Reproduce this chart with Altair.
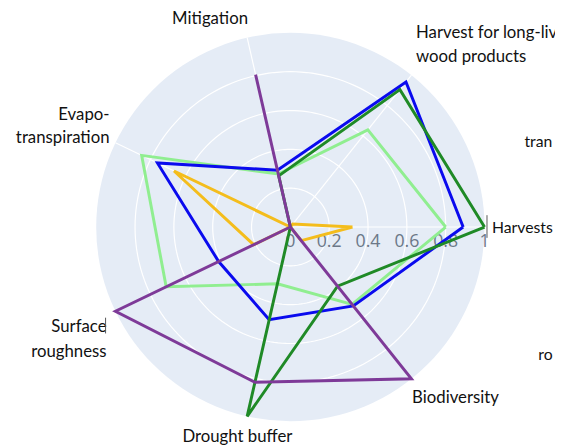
import math
import altair as alt
import pandas as pd

# ---------------- data ----------------
categories = ["Harvests", "Harvest for long-lived wood products", "Mitigation",
              "Evapo-transpiration", "Surface roughness", "Drought buffer", "Biodiversity"]

series_names = ["Scenario 1", "Scenario 2", "Scenario 3", "Scenario 4", "Scenario 5"]
values_gold = [0.32, 0.02, 0.00, 0.665, 0.21, 0.00, 0.09]
values_light_green = [0.80, 0.64, 0.28, 0.85, 0.71, 0.30, 0.51]
values_blue = [0.89, 0.955, 0.30, 0.76, 0.41, 0.49, 0.52]
values_dark_green = [1.00, 0.905, 0.27, 0.00, 0.00, 1.00, 0.39]
values_purple = [0.00, 0.00, 0.805, 0.00, 1.00, 0.82, 1.00]

radial_ticks = [0, 0.2, 0.4, 0.6, 0.8, 1]
radial_tick_labels = ["0", "0.2", "0.4", "0.6", "0.8", "1"]
grid_rings = [0.2, 0.4, 0.6, 0.8]

# ---------------- layout / style ----------------
W, H = 555, 440
CX, CY = 286.5, 219.0          # centre of the polar area, in plot pixels
R = 197.0                       # radius of value 1
x_scale = alt.Scale(domain=[-CX / R, (W - CX) / R], nice=False, zero=False)
y_scale = alt.Scale(domain=[-(H - CY) / R, CY / R], nice=False, zero=False)
colors = ["#f4bd1c", "#90ee90", "#0a0aee", "#1f8a26", "#7e3a98"]
series_values = [values_gold, values_light_green, values_blue, values_dark_green, values_purple]
N = len(categories)
STEP = 2 * math.pi / N

X = lambda f: alt.X(f, type="quantitative", scale=x_scale, axis=None)
Y = lambda f: alt.Y(f, type="quantitative", scale=y_scale, axis=None)

# background disk
disk = alt.Chart(pd.DataFrame({"px": [0.0], "py": [0.0]})).mark_circle(
    size=(2 * R) ** 2, color="#e5ecf6", opacity=1
).encode(x=X("px"), y=Y("py"))

# grid rings
ring_rows = []
for r in grid_rings:
    for k in range(0, 181):
        ring_rows.append({"ring": r, "k": k})
rings = alt.Chart(pd.DataFrame(ring_rows)).transform_calculate(
    a="datum.k * 2 * PI / 180",
    px="datum.ring * cos(datum.a)",
    py="datum.ring * sin(datum.a)",
).mark_line(color="white", strokeWidth=1.2).encode(
    x=X("px"), y=Y("py"), detail="ring:N", order="k:Q"
)

# spokes
spokes = alt.Chart(pd.DataFrame({"cat": categories, "idx": list(range(N))})).transform_calculate(
    a=f"datum.idx * {STEP}",
    x0="0", y0="0",
    ex="cos(datum.a)", ey="sin(datum.a)",
).mark_rule(color="white", strokeWidth=1.2).encode(
    x=X("x0"), y=Y("y0"), x2="ex:Q", y2="ey:Q"
)

# radial tick labels
ticks = alt.Chart(pd.DataFrame({"v": radial_ticks, "lab": radial_tick_labels, "zero": [0.0] * 6})).mark_text(
    font="Open Sans", fontSize=18, color="#6c7888", dy=15, align="center", baseline="middle"
).encode(x=X("v"), y=Y("zero"), text="lab:N")

# series lines
line_layers = []
for name, vals, col in zip(series_names, series_values, colors):
    rows = []
    for k in range(N + 1):
        i = k % N
        rows.append({"series": name, "order": k, "idx": i, "category": categories[i], "value": vals[i]})
    line_layers.append(
        alt.Chart(pd.DataFrame(rows)).transform_calculate(
            a=f"datum.idx * {STEP}",
            px="datum.value * cos(datum.a)",
            py="datum.value * sin(datum.a)",
        ).mark_line(color=col, strokeWidth=3, strokeJoin="miter").encode(
            x=X("px"), y=Y("py"), order="order:Q"
        )
    )

# category labels (positions in plot pixels)
label_specs = [
    ("Mitigation", 205, 8, "center", 17),
    ("Harvest for long-live", 414, 22, "left", 17),
    ("wood products", 414, 47, "left", 17),
    ("tran", 524, 133, "left", 16),
    ("Evapo-", 103, 105, "right", 17),
    ("transpiration", 103, 129, "right", 17),
    ("Harvests", 491, 220, "left", 16),
    ("Surface", 100, 321, "right", 17),
    ("roughness", 100, 346, "right", 17),
    ("ro", 538, 349, "left", 16),
    ("Biodiversity", 410, 393, "left", 17),
    ("Drought buffer", 177, 432, "left", 17),
]
label_layers = []
for txt, lx, ly, al, fs in label_specs:
    label_layers.append(
        alt.Chart(pd.DataFrame({"t": [txt]})).mark_text(
            font="Lato", fontSize=fs, color="#111111", align=al, baseline="middle"
        ).encode(x=alt.value(lx), y=alt.value(ly), text="t:N")
    )

# thin separator marks seen next to two labels
marks = [
    alt.Chart(pd.DataFrame({"d": [0]})).mark_rule(color="#555555", strokeWidth=1).encode(
        x=alt.value(486), y=alt.value(207), y2=alt.value(230)),
    alt.Chart(pd.DataFrame({"d": [0]})).mark_rule(color="#555555", strokeWidth=1).encode(
        x=alt.value(99), y=alt.value(311), y2=alt.value(327)),
]

chart = alt.layer(disk, rings, spokes, ticks, *line_layers, *label_layers, *marks).properties(
    width=W, height=H, padding=0, autosize=alt.AutoSizeParams(type="none"),
    background="white",
).configure_view(stroke=None)

chart.save("out.html", embed_options={"renderer": "svg", "actions": False})
